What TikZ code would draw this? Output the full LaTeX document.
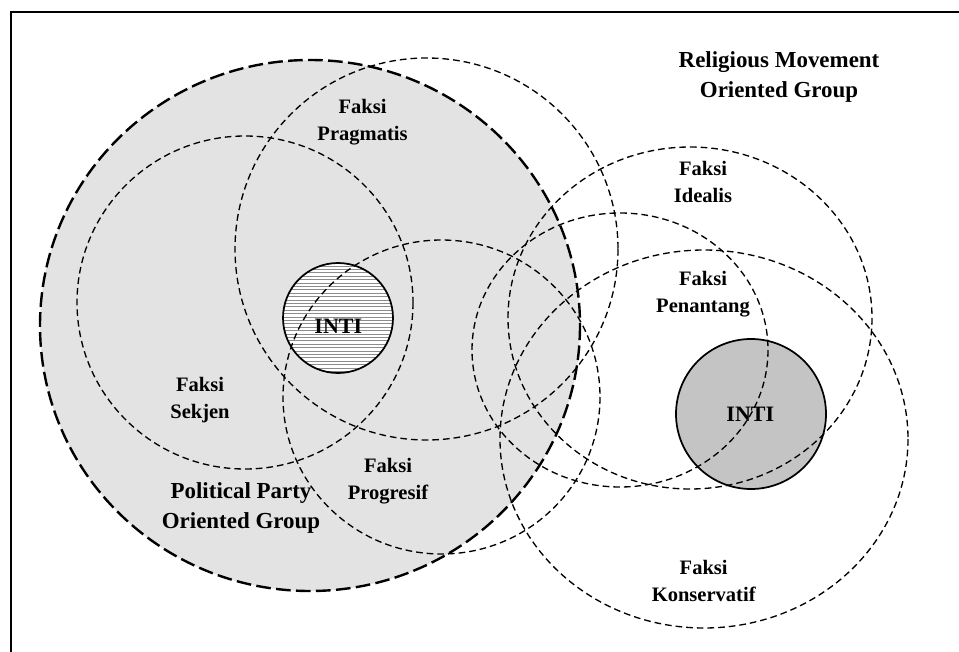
\documentclass[tikz,border=0pt]{standalone}
\usepackage{fontspec}
\setmainfont{Liberation Serif}
% two centred lines, aligned on the baseline of the first one
\newcommand\lblpair[2]{\begin{tabular}[t]{@{}c@{}}#1\\#2\end{tabular}}
\begin{document}
\begin{tikzpicture}[x=0.75pt,y=-0.75pt,
  faction/.style={draw=black, line width=1pt, dash pattern=on 5pt off 3pt},
  group/.style={draw=black, line width=1.8pt, dash pattern=on 11pt off 4pt},
  core/.style={draw=black, line width=1.3pt},
  factlbl/.style={font=\fontsize{15.4pt}{20.25pt}\selectfont\bfseries, anchor=base, inner sep=0pt},
  grouplbl/.style={font=\fontsize{17.2pt}{22.4pt}\selectfont\bfseries, anchor=base, inner sep=0pt},
  corelbl/.style={font=\fontsize{16.5pt}{19pt}\selectfont\bfseries, anchor=base, inner sep=0pt}]
\useasboundingbox (0,0) rectangle (959,652);
\clip (0,0) rectangle (959,652);

% outer frame
\draw[line width=1.6pt] (11,12) rectangle (990,690);

% political party oriented group: shaded area
\fill[black!11] (310,325.5) ellipse [x radius=270, y radius=265.5];

% left core: white with horizontal hatching
\fill[white] (338,318) circle (55);
\begin{scope}
  \clip (338,318) circle (55);
  \foreach \yy in {262.5,265.9,...,376}
    \draw[black!45, line width=0.45pt] (280,\yy) -- (396,\yy);
\end{scope}

% right core: darker shading
\fill[black!23] (751,414) circle (75);

% core outlines
\draw[core] (338,318) circle (55);
\draw[core] (751,414) circle (75);

% factions
\draw[faction] (245,302.5) ellipse [x radius=168, y radius=166.5];   % Sekjen
\draw[faction] (426.5,249) ellipse [x radius=191.5, y radius=191];   % Pragmatis
\draw[faction] (441.5,397) ellipse [x radius=158.5, y radius=157];   % Progresif
\draw[faction] (690,318) ellipse [x radius=182, y radius=171];       % Idealis
\draw[faction] (620,350) ellipse [x radius=148, y radius=137];       % Penantang
\draw[faction] (704,439) ellipse [x radius=204, y radius=189];       % Konservatif

% group boundary
\draw[group] (310,325.5) ellipse [x radius=270, y radius=265.5];

% labels
\node[grouplbl] (religious) at (779,67.7) {\lblpair{Religious Movement}{Oriented Group}};
\node[grouplbl] (political) at (241,498.7) {\lblpair{Political Party}{Oriented Group}};
\node[factlbl] (pragmatis) at (362.5,114) {\lblpair{Faksi}{Pragmatis}};
\node[factlbl] (idealis) at (703,175.7) {\lblpair{Faksi}{Idealis}};
\node[factlbl] (penantang) at (703,285) {\lblpair{Faksi}{Penantang}};
\node[factlbl] (sekjen) at (200,391.7) {\lblpair{Faksi}{Sekjen}};
\node[factlbl] (progresif) at (388,472.7) {\lblpair{Faksi}{Progresif}};
\node[factlbl] (konservatif) at (703.7,574) {\lblpair{Faksi}{Konservatif}};
\node[corelbl] (intileft) at (338.3,333.3) {INTI};
\node[corelbl] (intiright) at (750.3,421.7) {INTI};
\end{tikzpicture}
\end{document}
